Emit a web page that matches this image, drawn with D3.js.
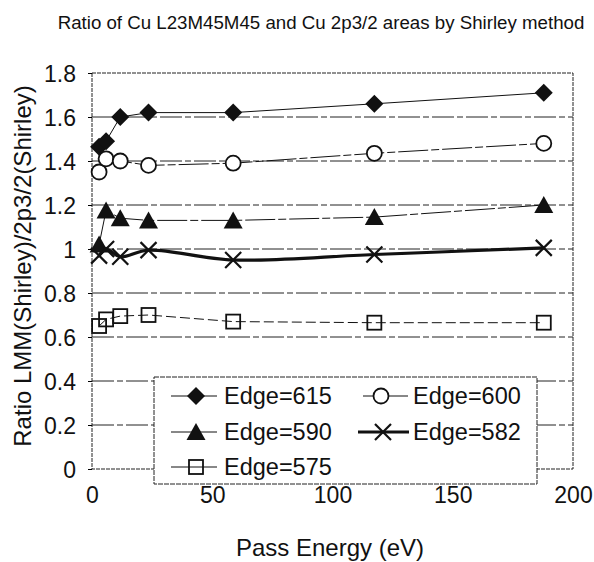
<!DOCTYPE html>
<html>
<head>
<meta charset="utf-8">
<script src="https://cdn.jsdelivr.net/npm/d3@7"></script>
<style>
  html, body { margin: 0; padding: 0; background: #fff; }
  text { font-family: "Liberation Sans", Arial, Helvetica, sans-serif; fill: #111; }
</style>
</head>
<body>
<svg id="chart" width="594" height="562"></svg>
<script>
// ---- data ----
const passEnergy = [2.95, 5.85, 11.75, 23.5, 58.7, 117.4, 187.85];
const edge615 = [1.465, 1.49, 1.60, 1.62, 1.62, 1.66, 1.71];
const edge600 = [1.35, 1.41, 1.40, 1.38, 1.39, 1.435, 1.48];
const edge590 = [1.02, 1.175, 1.14, 1.13, 1.13, 1.145, 1.20];
const edge582 = [0.97, 1.00, 0.965, 0.995, 0.95, 0.975, 1.005];
const edge575 = [0.65, 0.68, 0.695, 0.70, 0.67, 0.665, 0.665];
const seriesNames = ["Edge=615", "Edge=600", "Edge=590", "Edge=582", "Edge=575"];
const xTicks = [0, 50, 100, 150, 200];
const yTicks = [0, 0.2, 0.4, 0.6, 0.8, 1, 1.2, 1.4, 1.6, 1.8];
const titleText = "Ratio of Cu L23M45M45 and Cu 2p3/2 areas by Shirley method";
const xTitle = "Pass Energy (eV)";
const yTitle = "Ratio LMM(Shirley)/2p3/2(Shirley)";

const svg = d3.select("#chart");
const plot = { left: 92, right: 573, top: 73, bottom: 469 };
const x = d3.scaleLinear().domain([0, 200]).range([plot.left, plot.right]);
const y = d3.scaleLinear().domain([0, 1.8]).range([plot.bottom, plot.top]);

// title
svg.append("text").attr("x", 321).attr("y", 29).attr("text-anchor", "middle")
  .style("font-size", "18.7px").text(titleText);

// gridlines
svg.append("g").selectAll("line").data(yTicks.filter(d => d > 0 && d < 1.8)).join("line")
  .attr("x1", plot.left).attr("x2", plot.right)
  .attr("y1", d => y(d)).attr("y2", d => y(d))
  .attr("stroke", "#222").attr("stroke-width", 1).attr("stroke-dasharray", "22,3,6,3");

// plot border
svg.append("rect").attr("x", plot.left).attr("y", plot.top)
  .attr("width", plot.right - plot.left).attr("height", plot.bottom - plot.top)
  .attr("fill", "none").attr("stroke", "#222").attr("stroke-width", 1).attr("stroke-dasharray", "4,1");

// axes
const yAxis = d3.axisLeft(y).tickValues(yTicks).tickSize(4).tickPadding(12)
  .tickFormat(d => d3.format("~g")(d));
const gy = svg.append("g").attr("transform", `translate(${plot.left},0)`).call(yAxis);
gy.select(".domain").remove();
gy.selectAll("text").style("font-size", "23px").attr("dy", "0.36em");

const xAxis = d3.axisBottom(x).tickValues(xTicks).tickSize(0).tickPadding(18)
  .tickFormat(d3.format("d"));
const gx = svg.append("g").attr("transform", `translate(0,${plot.bottom})`).call(xAxis);
gx.select(".domain").remove();
gx.selectAll("text").style("font-size", "23px");

// axis titles
svg.append("text").attr("x", 330).attr("y", 556).attr("text-anchor", "middle")
  .style("font-size", "24px").text(xTitle);
svg.append("text").attr("transform", "translate(31,266) rotate(-90)").attr("text-anchor", "middle")
  .style("font-size", "24px").text(yTitle);

// marker drawing
function drawMarker(g, type, cx, cy) {
  if (type === "diamond") {
    g.append("path").attr("d", `M${cx},${cy-9}L${cx+9},${cy}L${cx},${cy+9}L${cx-9},${cy}Z`).attr("fill", "#111");
  } else if (type === "circle") {
    g.append("circle").attr("cx", cx).attr("cy", cy).attr("r", 7.5)
      .attr("fill", "#fff").attr("stroke", "#111").attr("stroke-width", 1.8);
  } else if (type === "triangle") {
    g.append("path").attr("d", `M${cx},${cy-9}L${cx+9.5},${cy+8}L${cx-9.5},${cy+8}Z`).attr("fill", "#111");
  } else if (type === "cross") {
    g.append("path").attr("d", `M${cx-8},${cy-8}L${cx+8},${cy+8}M${cx-8},${cy+8}L${cx+8},${cy-8}`)
      .attr("stroke", "#111").attr("stroke-width", 2.2).attr("fill", "none");
  } else if (type === "square") {
    g.append("rect").attr("x", cx-7).attr("y", cy-7).attr("width", 14).attr("height", 14)
      .attr("fill", "none").attr("stroke", "#111").attr("stroke-width", 1.8);
  }
}

const series = [
  { name: seriesNames[0], values: edge615, marker: "diamond", width: 1, dash: null, curve: d3.curveLinear },
  { name: seriesNames[1], values: edge600, marker: "circle", width: 1, dash: "30,3,8,3", curve: d3.curveLinear },
  { name: seriesNames[2], values: edge590, marker: "triangle", width: 1, dash: "30,3,8,3", curve: d3.curveLinear },
  { name: seriesNames[3], values: edge582, marker: "cross", width: 3.2, dash: null, curve: d3.curveCatmullRom.alpha(0.5) },
  { name: seriesNames[4], values: edge575, marker: "square", width: 1, dash: "10,4", curve: d3.curveLinear }
];

const line = d3.line().x(d => x(d[0])).y(d => y(d[1]));
const gSeries = svg.append("g");
series.forEach(s => {
  const pts = passEnergy.map((e, i) => [e, s.values[i]]);
  gSeries.append("path").datum(pts)
    .attr("d", line.curve(s.curve))
    .attr("fill", "none").attr("stroke", "#111").attr("stroke-width", s.width)
    .attr("stroke-dasharray", s.dash);
});
series.forEach(s => {
  const g = gSeries.append("g");
  passEnergy.forEach((e, i) => drawMarker(g, s.marker, x(e), y(s.values[i])));
});

// legend
const lg = svg.append("g");
lg.append("rect").attr("x", 154).attr("y", 377).attr("width", 383).attr("height", 107)
  .attr("fill", "#fff").attr("stroke", "#222").attr("stroke-width", 1).attr("stroke-dasharray", "5,1");
const legendPos = [
  { lx1: 171, lx2: 217, mx: 196, tx: 224, ty: 396 },
  { lx1: 363, lx2: 408, mx: 381, tx: 413, ty: 396 },
  { lx1: 171, lx2: 217, mx: 196, tx: 224, ty: 432 },
  { lx1: 358, lx2: 409, mx: 383, tx: 413, ty: 432 },
  { lx1: 171, lx2: 217, mx: 196, tx: 224, ty: 467 }
];
series.forEach((s, i) => {
  const p = legendPos[i];
  lg.append("line").attr("x1", p.lx1).attr("x2", p.lx2).attr("y1", p.ty).attr("y2", p.ty)
    .attr("stroke", "#111").attr("stroke-width", s.width);
  drawMarker(lg, s.marker, p.mx, p.ty);
  lg.append("text").attr("x", p.tx).attr("y", p.ty).attr("dy", "0.36em")
    .style("font-size", "23.5px").text(s.name);
});
</script>
</body>
</html>
